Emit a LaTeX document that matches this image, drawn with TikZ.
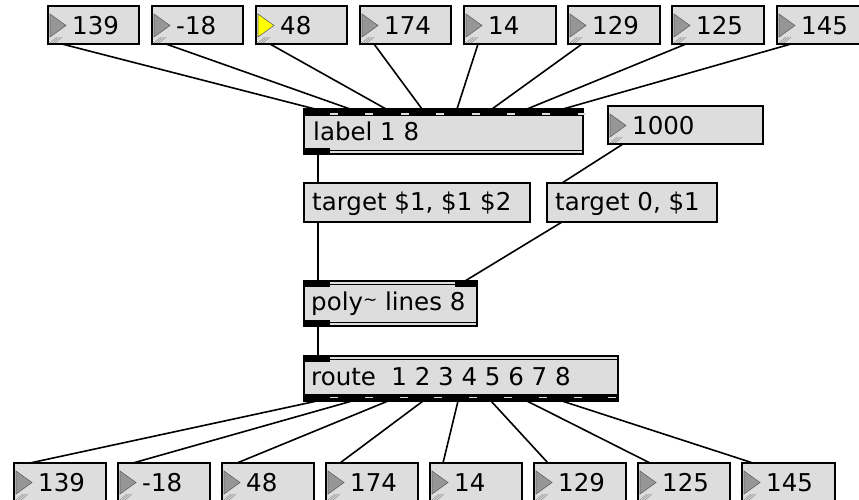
\documentclass[tikz,border=0pt]{standalone}
\usepackage{fontspec}
\setmainfont{DejaVu Sans}
\definecolor{boxgray}{RGB}{221,221,221}
\definecolor{trigray}{RGB}{150,150,150}
\definecolor{triedge}{RGB}{100,100,100}
\definecolor{triyellow}{RGB}{255,255,0}
\tikzset{
  numbox/.style={draw=black, line width=1.3pt, fill=boxgray, minimum width=91pt, minimum height=38pt, anchor=north west, inner sep=0pt, outer sep=0pt},
  objbox/.style={draw=black, line width=1.5pt, fill=boxgray, minimum height=45pt, anchor=north west, inner sep=0pt, outer sep=0pt},
  msgbox/.style={draw=black, line width=1.3pt, fill=boxgray, minimum height=39pt, anchor=north west, inner sep=0pt, outer sep=0pt},
  txt/.style={font=\fontsize{24.5}{24.5}\selectfont, inner sep=0pt, anchor=base west},
  wire/.style={draw=black, line width=1.6pt},
}
\newcommand\numbx[6]{%
  \node[numbox, minimum width=#6pt] (#1) at (#2,#3) {};
  \filldraw[fill=#5, draw=triedge, line width=0.6pt] ([shift={(2pt,-8pt)}]#1.north west) -- ++(0pt,-23pt) -- ++(16pt,11.5pt) -- cycle;
  \foreach \h in {0,2.5,5}{
    \draw[trigray, line width=0.6pt] ([shift={(2pt+\h pt,-37pt)}]#1.north west) -- ++(7pt,6pt);
  }
  \node[txt] (#1v) at ([shift={(24pt,-28pt)}]#1.north west) {#4};
}
\begin{document}
\begin{tikzpicture}[x=1pt,y=-1pt]
\useasboundingbox (0,0) rectangle (859,499);
\clip (0,0) rectangle (859,499);
\fill[white] (0,0) rectangle (859,499);

% top number boxes
\numbx{t0}{48}{6}{139}{trigray}{91}
\numbx{t1}{152}{6}{-18}{trigray}{91}
\numbx{t2}{256}{6}{48}{triyellow}{91}
\numbx{t3}{360}{6}{174}{trigray}{91}
\numbx{t4}{464}{6}{14}{trigray}{92}
\numbx{t5}{568}{6}{129}{trigray}{92}
\numbx{t6}{672}{6}{125}{trigray}{92}
\numbx{t7}{777}{6}{145}{trigray}{91}

% 1000 box
\numbx{k1000}{608}{106}{1000}{trigray}{155}

% label 1 8
\node[objbox, minimum width=279pt] (lab) at (304,109) {};
\fill[black] (lab.north west) rectangle ([yshift=-7pt]lab.north east);
\foreach \i in {0,...,7}{
  \fill[boxgray] ([shift={(26pt+\i*35.4pt,-4pt)}]lab.north west) rectangle ++(8pt,-1.6pt);
}
\fill[black] ([yshift=6pt]lab.south west) rectangle ([xshift=26pt]lab.south west);
\draw[line width=0.8pt] ([shift={(26pt,4pt)}]lab.south west) -- ([yshift=4pt]lab.south east);
\node[txt] (labt) at ([shift={(9pt,-31pt)}]lab.north west) {label 1 8};

% message boxes
\node[msgbox, minimum width=226pt] (tg1) at (304,183) {};
\node[txt] (tg1t) at ([shift={(8pt,-27pt)}]tg1.north west) {target \$1, \$1 \$2};
\node[msgbox, minimum width=170pt] (tg0) at (547,183) {};
\node[txt] (tg0t) at ([shift={(8pt,-27pt)}]tg0.north west) {target 0, \$1};

% poly~
\node[objbox, minimum width=173pt] (poly) at (304,281) {};
\fill[black] (poly.north west) rectangle ([shift={(26pt,-6pt)}]poly.north west);
\fill[black] ([xshift=-22pt]poly.north east) rectangle ([yshift=-6pt]poly.north east);
\draw[line width=0.8pt] ([shift={(26pt,-3pt)}]poly.north west) -- ([shift={(-22pt,-3pt)}]poly.north east);
\fill[black] ([yshift=6pt]poly.south west) rectangle ([xshift=26pt]poly.south west);
\draw[line width=0.8pt] ([shift={(26pt,4pt)}]poly.south west) -- ([yshift=4pt]poly.south east);
\node[txt] (polyt) at ([shift={(7pt,-29pt)}]poly.north west) {poly\raisebox{5pt}{\fontsize{17}{17}\selectfont\char`~}\ lines 8};

% route
\node[objbox, minimum width=314pt] (route) at (304,356) {};
\fill[black] (route.north west) rectangle ([shift={(26pt,-6pt)}]route.north west);
\draw[line width=0.8pt] ([shift={(26pt,-3pt)}]route.north west) -- ([yshift=-3pt]route.north east);
\fill[black] ([yshift=7pt]route.south west) rectangle (route.south east);
\foreach \i in {0,...,8}{
  \fill[boxgray] ([shift={(26pt+\i*34.8pt,4.5pt)}]route.south west) rectangle ++(8pt,-1.6pt);
}
\node[txt] (routet) at ([shift={(7pt,-29pt)}]route.north west) {route\ \ 1 2 3 4 5 6 7 8};

% bottom number boxes
\numbx{b0}{14}{463}{139}{trigray}{92}
\numbx{b1}{118}{463}{-18}{trigray}{92}
\numbx{b2}{222}{463}{48}{trigray}{92}
\numbx{b3}{326}{463}{174}{trigray}{92}
\numbx{b4}{430}{463}{14}{trigray}{92}
\numbx{b5}{534}{463}{129}{trigray}{92}
\numbx{b6}{638}{463}{125}{trigray}{92}
\numbx{b7}{742}{463}{145}{trigray}{93}

% wires top -> label
\draw[wire] ([xshift=14pt]t0.south west) -- ([xshift=11pt]lab.north west);
\draw[wire] ([xshift=14pt]t1.south west) -- ([xshift=46pt]lab.north west);
\draw[wire] ([xshift=14pt]t2.south west) -- ([xshift=82pt]lab.north west);
\draw[wire] ([xshift=14pt]t3.south west) -- ([xshift=118pt]lab.north west);
\draw[wire] ([xshift=14pt]t4.south west) -- ([xshift=153pt]lab.north west);
\draw[wire] ([xshift=14pt]t5.south west) -- ([xshift=188pt]lab.north west);
\draw[wire] ([xshift=14pt]t6.south west) -- ([xshift=223pt]lab.north west);
\draw[wire] ([xshift=14pt]t7.south west) -- ([xshift=259pt]lab.north west);

% middle wires
\draw[wire] ([xshift=14pt]lab.south west) -- ([xshift=14pt]tg1.north west);
\draw[wire] ([xshift=14pt]tg1.south west) -- ([xshift=14pt]poly.north west);
\draw[wire] ([xshift=15pt]k1000.south west) -- ([xshift=15pt]tg0.north west);
\draw[wire] ([xshift=15pt]tg0.south west) -- ([xshift=161pt]poly.north west);
\draw[wire] ([xshift=14pt]poly.south west) -- ([xshift=14pt]route.north west);

% route -> bottom
\draw[wire] ([xshift=13pt]route.south west) -- ([xshift=16pt]b0.north west);
\draw[wire] ([xshift=48pt]route.south west) -- ([xshift=15pt]b1.north west);
\draw[wire] ([xshift=84pt]route.south west) -- ([xshift=15pt]b2.north west);
\draw[wire] ([xshift=119pt]route.south west) -- ([xshift=14pt]b3.north west);
\draw[wire] ([xshift=154pt]route.south west) -- ([xshift=13pt]b4.north west);
\draw[wire] ([xshift=187pt]route.south west) -- ([xshift=14pt]b5.north west);
\draw[wire] ([xshift=223pt]route.south west) -- ([xshift=12pt]b6.north west);
\draw[wire] ([xshift=258pt]route.south west) -- ([xshift=11pt]b7.north west);
\end{tikzpicture}
\end{document}
